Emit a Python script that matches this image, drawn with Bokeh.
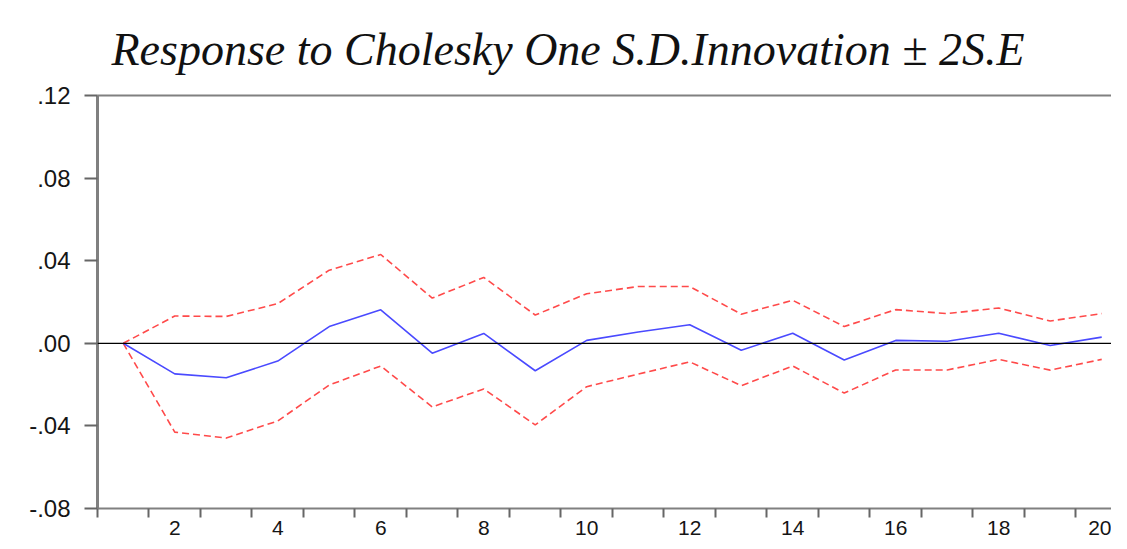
from bokeh.plotting import figure
from bokeh.models import FixedTicker, CustomJSTickFormatter, Span, LinearAxis, Title, Range1d
from bokeh.embed import file_html
from bokeh.resources import INLINE

periods = list(range(1, 21))
response = [0.0, -0.0148, -0.0167, -0.0086, 0.0081, 0.0162, -0.0048, 0.0048, -0.0133, 0.0014,
            0.0055, 0.0090, -0.0034, 0.0049, -0.0081, 0.0014, 0.0010, 0.0049, -0.0011, 0.0030]
upper = [0.0, 0.0132, 0.0130, 0.0192, 0.0354, 0.0430, 0.0219, 0.0319, 0.0137, 0.0240,
         0.0275, 0.0275, 0.0141, 0.0208, 0.0081, 0.0163, 0.0144, 0.0171, 0.0108, 0.0144]
lower = [0.0, -0.0430, -0.0459, -0.0376, -0.0202, -0.0110, -0.0308, -0.0221, -0.0395, -0.0210,
         -0.0149, -0.0090, -0.0205, -0.0110, -0.0241, -0.0129, -0.0129, -0.0078, -0.0130, -0.0078]
x_labels = [2, 4, 6, 8, 10, 12, 14, 16, 18, 20]
y_ticks = [-0.08, -0.04, 0.0, 0.04, 0.08, 0.12]
title_text = "Response to Cholesky One S.D.Innovation  \u00b1 2S.E"

p = figure(width=1111, height=537, output_backend="svg", toolbar_location=None,
           x_range=Range1d(0.5, 20.19), y_range=Range1d(-0.08, 0.12),
           x_axis_location="below",
           min_border_left=97, min_border_right=0, min_border_top=0, min_border_bottom=0)

p.title = Title(text=title_text, text_font="Liberation Serif", text_font_style="italic",
                text_font_size="46px", text_color="#111111", align="left", offset=14,
                standoff=42)
p.outline_line_color = None
p.background_fill_color = "white"
p.border_fill_color = "white"
p.grid.visible = False

xa = p.below[0]
xa.ticker = FixedTicker(ticks=x_labels, minor_ticks=[i + 0.5 for i in range(0, 21)])
xa.major_tick_line_color = None
xa.minor_tick_line_color = "#666666"
xa.minor_tick_line_width = 2
xa.minor_tick_out = 9
xa.minor_tick_in = 0
xa.axis_line_color = "#808080"
xa.axis_line_width = 2
xa.major_label_text_font = "Liberation Sans"
xa.major_label_text_font_size = "21px"
xa.major_label_text_color = "#151515"
xa.major_label_standoff = 3

# top border as an axis without ticks
top = LinearAxis(ticker=FixedTicker(ticks=[], minor_ticks=[]), axis_line_color="#808080",
                 axis_line_width=2, major_tick_line_color=None, minor_tick_line_color=None,
                 major_label_text_font_size="0px", major_label_standoff=0)
p.add_layout(top, "above")

ya = p.left[0]
ya.ticker = FixedTicker(ticks=y_ticks, minor_ticks=[])
ya.formatter = CustomJSTickFormatter(code="var s = tick.toFixed(2); return s.replace('0.', '.');")
ya.major_tick_line_color = "#666666"
ya.major_tick_line_width = 2
ya.major_tick_out = 13
ya.major_tick_in = 0
ya.minor_tick_line_color = None
ya.axis_line_color = "#808080"
ya.axis_line_width = 3
ya.major_label_text_font = "Liberation Sans"
ya.major_label_text_font_size = "24px"
ya.major_label_text_color = "#151515"
ya.major_label_standoff = 14

p.add_layout(Span(location=0, dimension="width", line_color="black", line_width=1.2))

p.line(periods, upper, line_color="#ff4a4a", line_width=1.6, line_dash="7 4")
p.line(periods, lower, line_color="#ff4a4a", line_width=1.6, line_dash="7 4")
p.line(periods, response, line_color="#4a4aff", line_width=1.6)

open("out.html", "w").write(file_html(p, INLINE))
